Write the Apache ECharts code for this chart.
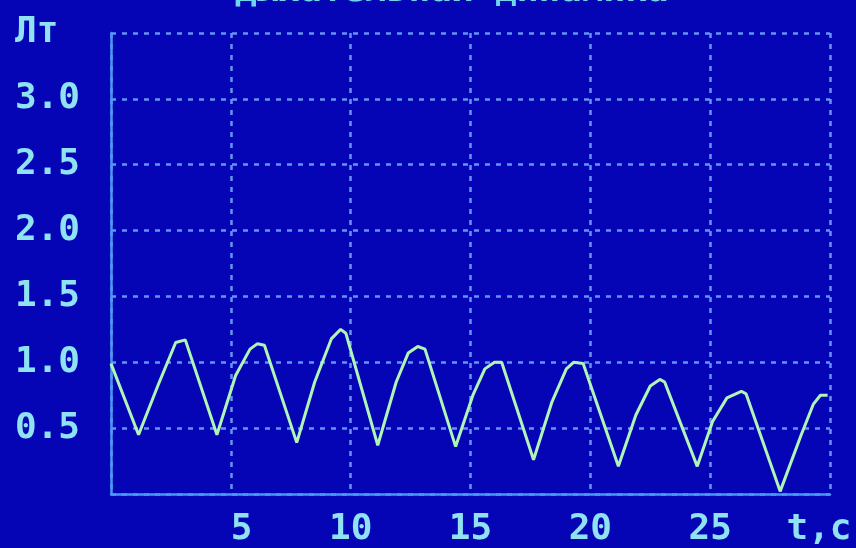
<!DOCTYPE html>
<html><head><meta charset="utf-8">
<script src="https://cdn.jsdelivr.net/npm/echarts@6/dist/echarts.min.js"></script>
<style>html,body{margin:0;padding:0;background:#0505b6;}#c{width:856px;height:548px;}</style>
</head><body><div id="c"></div>
<script>
var titleText = 'Дыхательная динамика';
var yUnit = 'Лт';
var xUnit = 't,c';
var xTicks = [0, 5, 10, 15, 20, 25, 30];
var yTicks = [0, 0.5, 1.0, 1.5, 2.0, 2.5, 3.0, 3.5];
var timeS = [0.0, 1.15, 1.95, 2.7, 3.1, 4.42, 5.2, 5.8, 6.1, 6.4, 7.75, 8.5, 9.2, 9.58, 9.8, 11.13, 11.9, 12.4, 12.8, 13.1, 14.38, 15.1, 15.6, 16.0, 16.3, 17.63, 18.4, 19.0, 19.3, 19.7, 21.17, 21.9, 22.5, 22.9, 23.1, 24.46, 25.1, 25.7, 26.3, 26.5, 27.92, 28.8, 29.3, 29.6, 29.9];
var volumeL = [0.99, 0.45, 0.82, 1.15, 1.17, 0.45, 0.9, 1.1, 1.14, 1.13, 0.39, 0.85, 1.18, 1.25, 1.22, 0.37, 0.85, 1.07, 1.12, 1.1, 0.36, 0.75, 0.95, 1.0, 1.0, 0.26, 0.7, 0.95, 1.0, 0.99, 0.21, 0.6, 0.82, 0.87, 0.85, 0.21, 0.55, 0.73, 0.78, 0.76, 0.02, 0.45, 0.68, 0.75, 0.75];

var labelColor = '#8fe2f2';
var fontFam = '"DejaVu Sans Mono", "Liberation Mono", monospace';
var chart = echarts.init(document.getElementById('c'), null, {renderer: 'canvas'});
var pts = timeS.map(function (t, i) { return [t, volumeL[i]]; });
chart.setOption({
  backgroundColor: '#0505b6',
  animation: false,
  title: {
    text: titleText, left: 230, top: -31,
    textStyle: {color: '#6fd6f0', fontFamily: fontFam, fontSize: 36, fontWeight: 'bold'}
  },
  grid: {left: 111, right: 26, top: 33, bottom: 52, containLabel: false},
  xAxis: {
    type: 'value', min: xTicks[0], max: xTicks[xTicks.length - 1], interval: 5,
    axisLine: {show: true, onZero: false, lineStyle: {color: '#4a98f4', width: 2.5}},
    axisTick: {show: false},
    splitLine: {show: true, lineStyle: {color: '#6694f4', width: 2.5, type: [5, 6]}},
    axisLabel: {
      margin: 18, color: labelColor, fontFamily: fontFam, fontSize: 36, fontWeight: 'bold',
      formatter: function (v) {
        if (v === 0) return '';
        if (v === 30) return '{u|' + xUnit + '}';
        return v < 10 ? ' ' + v : String(v);
      },
      rich: {u: {color: labelColor, fontFamily: fontFam, fontSize: 36, fontWeight: 'bold', padding: [0, 22, 0, 0]}}
    }
  },
  yAxis: {
    type: 'value', min: yTicks[0], max: yTicks[yTicks.length - 1], interval: 0.5,
    axisLine: {show: true, lineStyle: {color: '#4a98f4', width: 2.5}},
    axisTick: {show: false},
    splitLine: {show: true, lineStyle: {color: '#6694f4', width: 2.5, type: [5, 6]}},
    axisLabel: {
      align: 'left', margin: 96, color: labelColor, fontFamily: fontFam, fontSize: 36, fontWeight: 'bold',
      verticalAlign: 'middle',
      formatter: function (v) {
        if (v === 0) return '';
        if (Math.abs(v - 3.5) < 1e-6) return yUnit;
        return v.toFixed(1);
      }
    }
  },
  series: [{
    type: 'line', data: pts, showSymbol: false, smooth: false,
    lineStyle: {color: '#b0f5b8', width: 3},
    z: 5
  }]
});
</script></body></html>
